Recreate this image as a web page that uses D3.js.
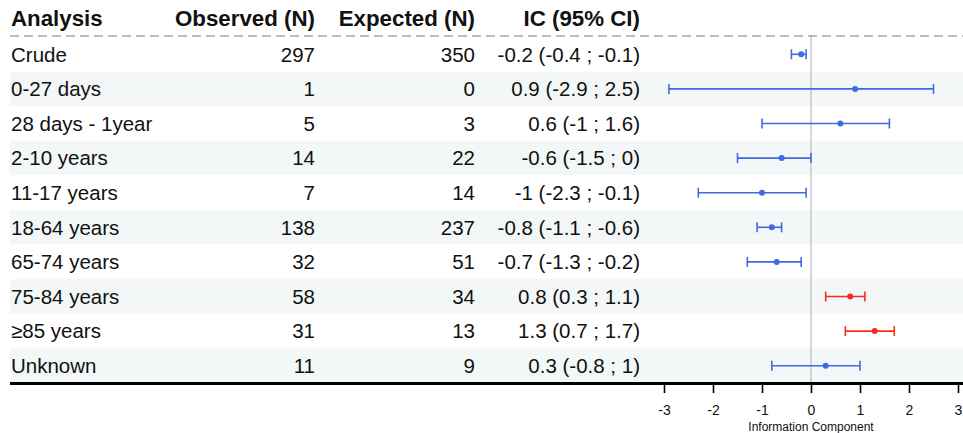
<!DOCTYPE html>
<html>
<head>
<meta charset="utf-8">
<script src="https://cdn.jsdelivr.net/npm/d3@7"></script>
<style>
html,body{margin:0;padding:0;background:#fff;}
svg{display:block;font-family:"Liberation Sans",Arial,Helvetica,sans-serif;}
</style>
</head>
<body>
<svg id="chart" width="963" height="433"></svg>
<script>
const headers = ["Analysis", "Observed (N)", "Expected (N)", "IC (95% CI)"];
const analysis = ["Crude", "0-27 days", "28 days - 1year", "2-10 years", "11-17 years", "18-64 years", "65-74 years", "75-84 years", "≥85 years", "Unknown"];
const observed = [297, 1, 5, 14, 7, 138, 32, 58, 31, 11];
const expected = [350, 0, 3, 22, 14, 237, 51, 34, 13, 9];
const ic = [-0.2, 0.9, 0.6, -0.6, -1, -0.8, -0.7, 0.8, 1.3, 0.3];
const lower = [-0.4, -2.9, -1, -1.5, -2.3, -1.1, -1.3, 0.3, 0.7, -0.8];
const upper = [-0.1, 2.5, 1.6, 0, -0.1, -0.6, -0.2, 1.1, 1.7, 1];
const xTicks = [-3, -2, -1, 0, 1, 2, 3];
const xTitle = "Information Component";

const svg = d3.select("#chart");
const left = 10, right = 963;
const tableTop = 37, tableBottom = 383;
const n = analysis.length;

const y = d3.scaleBand().domain(d3.range(n)).range([tableTop, tableBottom]).padding(0);
const x = d3.scaleLinear().domain([-3, 3]).range([664, 958]);

const blue = "#4169e1", red = "#ff2a1c";
const colorOf = i => lower[i] > 0 ? red : blue;

// row shading
svg.append("g").selectAll("rect").data(d3.range(n)).join("rect")
  .attr("x", left).attr("width", right - left)
  .attr("y", i => y(i)).attr("height", y.bandwidth())
  .attr("fill", i => i % 2 === 1 ? "#f4f7f8" : "#ffffff");

// zero line
svg.append("line")
  .attr("x1", x(0)).attr("x2", x(0))
  .attr("y1", tableTop - 2).attr("y2", tableBottom)
  .attr("stroke", "#c8c8c8").attr("stroke-width", 1.5);

// header
const colX = [11, 315, 475, 640];
const anchors = ["start", "end", "end", "end"];
svg.append("g").selectAll("text").data(headers).join("text")
  .attr("x", (d, i) => colX[i]).attr("y", 26)
  .attr("text-anchor", (d, i) => anchors[i])
  .attr("font-weight", "bold").attr("font-size", 22.3).attr("fill", "#111")
  .text(d => d);

// dashed line under header
svg.append("line")
  .attr("x1", left).attr("x2", right).attr("y1", 36).attr("y2", 36)
  .attr("stroke", "#a8a8a8").attr("stroke-width", 1.5)
  .attr("stroke-dasharray", "9,5");

// table cells
const fmt = v => String(v);
const rows = svg.append("g").selectAll("g").data(d3.range(n)).join("g")
  .attr("transform", i => `translate(0,${y(i) + y.bandwidth() / 2})`);
const cellText = [
  i => analysis[i],
  i => String(observed[i]),
  i => String(expected[i]),
  i => `${fmt(ic[i])} (${fmt(lower[i])} ; ${fmt(upper[i])})`
];
cellText.forEach((f, c) => {
  rows.append("text")
    .attr("x", colX[c]).attr("y", 0).attr("dy", "0.36em")
    .attr("text-anchor", anchors[c])
    .attr("font-size", 20.5).attr("fill", "#111")
    .text(f);
});

// error bars
const cap = 5;
rows.append("line")
  .attr("x1", i => x(lower[i])).attr("x2", i => x(upper[i]))
  .attr("stroke", colorOf).attr("stroke-width", 1.6);
rows.append("line")
  .attr("x1", i => x(lower[i])).attr("x2", i => x(lower[i]))
  .attr("y1", -cap).attr("y2", cap)
  .attr("stroke", colorOf).attr("stroke-width", 1.6);
rows.append("line")
  .attr("x1", i => x(upper[i])).attr("x2", i => x(upper[i]))
  .attr("y1", -cap).attr("y2", cap)
  .attr("stroke", colorOf).attr("stroke-width", 1.6);
rows.append("circle")
  .attr("cx", i => x(ic[i])).attr("cy", 0).attr("r", 3)
  .attr("fill", colorOf);

// bottom thick line
svg.append("line")
  .attr("x1", left).attr("x2", right).attr("y1", tableBottom + 0.5).attr("y2", tableBottom + 0.5)
  .attr("stroke", "#000").attr("stroke-width", 3);

// x axis
const axis = d3.axisBottom(x).tickValues(xTicks).tickSize(9).tickPadding(12).tickFormat(d => String(d));
const gAx = svg.append("g").attr("transform", `translate(0,${tableBottom + 1})`).call(axis);
gAx.select(".domain").remove();
gAx.selectAll(".tick line").attr("stroke", "#000").attr("stroke-width", 1.6);
gAx.selectAll(".tick text").attr("font-size", 14).attr("fill", "#111")
  .attr("font-family", "'Liberation Sans',Arial,sans-serif");

svg.append("text")
  .attr("x", x(0)).attr("y", 431)
  .attr("text-anchor", "middle").attr("font-size", 12).attr("fill", "#111")
  .text(xTitle);
</script>
</body>
</html>
